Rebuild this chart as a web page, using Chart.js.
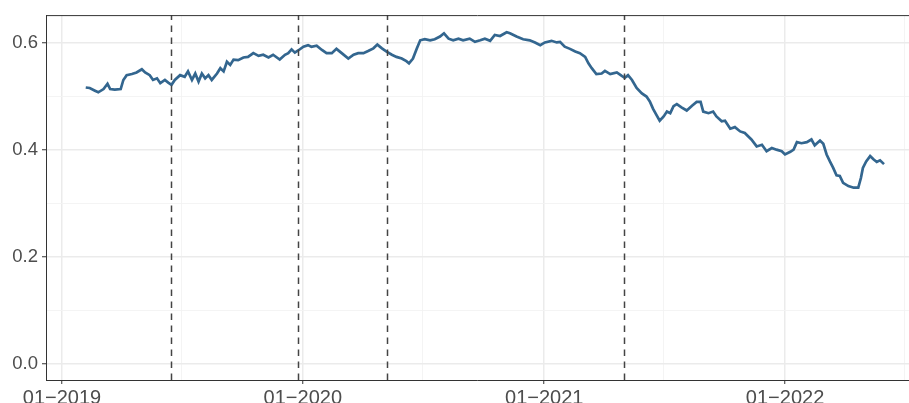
<!DOCTYPE html>
<html>
<head>
<meta charset="utf-8">
<script src="https://cdn.jsdelivr.net/npm/chart.js@4/dist/chart.umd.min.js"></script>
<style>
html,body{margin:0;padding:0;background:#fff;overflow:hidden;}
canvas{display:block;}
</style>
</head>
<body>
<canvas id="c" width="909" height="403"></canvas>
<script>
// x values: days since 2019-01-01
const days = [36,42,50,55,63,69,73,80,89,93,98,106,113,121,126,133,138,144,149,156,161,166,171,179,186,191,197,202,207,212,217,222,227,235,240,245,250,255,260,267,275,282,290,298,305,313,320,330,338,343,348,353,358,366,373,378,386,394,401,409,416,424,434,442,449,457,464,472,478,485,492,500,507,515,522,526,532,538,543,550,558,565,573,579,586,593,601,608,618,626,634,641,649,656,664,674,679,689,699,709,717,725,732,742,750,755,762,770,778,785,793,798,803,810,818,823,831,841,848,853,858,864,871,879,886,891,896,901,906,912,917,922,927,932,939,947,955,962,968,972,980,987,992,1000,1005,1013,1020,1028,1035,1040,1045,1053,1061,1068,1076,1083,1091,1096,1104,1109,1114,1121,1129,1136,1141,1149,1154,1159,1164,1169,1174,1179,1184,1192,1200,1207,1211,1214,1219,1225,1230,1235,1240,1246];
const values = [.516,.515,.510,.507,.513,.523,.513,.512,.513,.530,.539,.541,.544,.550,.544,.539,.530,.533,.524,.530,.525,.521,.530,.539,.536,.546,.530,.542,.527,.542,.533,.539,.530,.542,.552,.546,.564,.558,.568,.567,.572,.573,.580,.575,.577,.572,.577,.568,.577,.580,.587,.581,.585,
.592,.595,.592,.594,.586,.580,.580,.588,.580,.570,.577,.580,.580,.584,.589,.596,.589,.583,.577,.573,.570,.565,.561,.570,.589,.604,.606,.604,.606,.611,.617,.607,.604,.607,.604,.607,.601,.604,.607,.603,.614,.612,.619,
.617,.611,.606,.604,.600,.595,.600,.603,.600,.601,.592,.588,.583,.580,.573,.561,.552,.541,.542,.547,.541,.544,.538,.534,.539,.530,.515,.505,.499,.490,.476,.465,.454,.462,.471,.468,.481,.485,.479,.473,.482,.489,.489,.471,.468,.471,.462,.453,.454,.439,.442,.434,.431,.425,.419,.406,.409,.397,.403,.400,.397,.391,.396,.400,.414,.412,.414,.419,.408,.417,.411,.391,.378,.366,.352,.351,.338,.332,.329,.329,.347,.366,.378,.388,.382,.377,.380,.373];
// dashed event lines (days since 2019-01-01)
const eventDays = [165, 357, 492, 852];
// x ticks
const xMajorTicks = [0, 365, 731, 1096];
const xMajorLabels = ["01\u22122019", "01\u22122020", "01\u22122021", "01\u22122022"];
const xMinorTicks = [181, 547, 912, 1277];
// y ticks
const yMajorTicks = [0, 0.2, 0.4, 0.6];
const yMinorTicks = [0.1, 0.3, 0.5];

const xAll = [...xMajorTicks, ...xMinorTicks].sort((a,b)=>a-b);
const yAll = [...yMajorTicks, ...yMinorTicks].sort((a,b)=>a-b);
const isXMajor = v => xMajorTicks.includes(v);
const isYMajor = v => yMajorTicks.some(m => Math.abs(m - v) < 1e-9);

const panelPlugin = {
  id: 'panel',
  afterDatasetsDraw(chart) {
    const {ctx, chartArea: a, scales: {x}} = chart;
    ctx.save();
    ctx.beginPath();
    ctx.rect(a.left, a.top, a.right - a.left, a.bottom - a.top);
    ctx.clip();
    ctx.strokeStyle = '#444444';
    ctx.lineWidth = 1.5;
    ctx.setLineDash([6.5, 5.5]);
    eventDays.forEach(d => {
      const px = Math.round(x.getPixelForValue(d)) + 0.5;
      ctx.beginPath();
      ctx.moveTo(px, a.bottom);
      ctx.lineTo(px, a.top);
      ctx.stroke();
    });
    ctx.restore();
    ctx.save();
    ctx.strokeStyle = '#333333';
    ctx.lineWidth = 1;
    ctx.beginPath();
    ctx.moveTo(a.left, a.top + 0.5);
    ctx.lineTo(a.right, a.top + 0.5);
    ctx.stroke();
    ctx.restore();
  }
};

new Chart(document.getElementById('c'), {
  type: 'line',
  data: {
    datasets: [{
      data: days.map((d, i) => ({x: d, y: values[i]})),
      borderColor: '#33668F',
      borderWidth: 2.7,
      pointRadius: 0,
      tension: 0,
      fill: false
    }]
  },
  options: {
    responsive: false,
    devicePixelRatio: 1,
    animation: false,
    layout: {padding: {top: 13, left: 0, right: 0, bottom: 0}},
    plugins: {legend: {display: false}, tooltip: {enabled: false}},
    scales: {
      x: {
        type: 'linear',
        min: -24.25,
        max: 1283.9,
        afterBuildTicks: s => { s.ticks = xAll.map(v => ({value: v})); },
        afterFit: s => { s.height = 23; },
        border: {display: true, color: '#333333', width: 1},
        grid: {
          color: c => isXMajor(c.tick.value) ? '#EBEBEB' : '#F3F3F3',
          lineWidth: c => isXMajor(c.tick.value) ? 1.5 : 0.9,
          tickColor: c => isXMajor(c.tick.value) ? '#333333' : 'rgba(0,0,0,0)',
          tickLength: 4,
          tickWidth: 1
        },
        ticks: {
          autoSkip: false,
          maxRotation: 0,
          padding: 2,
          color: '#4D4D4D',
          font: {family: 'Liberation Sans, Arial, sans-serif', size: 20},
          callback: v => { const i = xMajorTicks.indexOf(v); return i >= 0 ? xMajorLabels[i] : ''; }
        }
      },
      y: {
        type: 'linear',
        min: -0.0297,
        max: 0.651,
        afterBuildTicks: s => { s.ticks = yAll.map(v => ({value: v})); },
        afterFit: s => { s.width = 46; },
        border: {display: true, color: '#333333', width: 1},
        grid: {
          color: c => isYMajor(c.tick.value) ? '#EBEBEB' : '#F3F3F3',
          lineWidth: c => isYMajor(c.tick.value) ? 1.5 : 0.9,
          tickColor: c => isYMajor(c.tick.value) ? '#333333' : 'rgba(0,0,0,0)',
          tickLength: 4,
          tickWidth: 1
        },
        ticks: {
          autoSkip: false,
          padding: 4,
          color: '#4D4D4D',
          font: {family: 'Liberation Sans, Arial, sans-serif', size: 18.5},
          callback: v => isYMajor(v) ? v.toFixed(1) : ''
        }
      }
    }
  },
  plugins: [panelPlugin]
});
</script>
</body>
</html>
